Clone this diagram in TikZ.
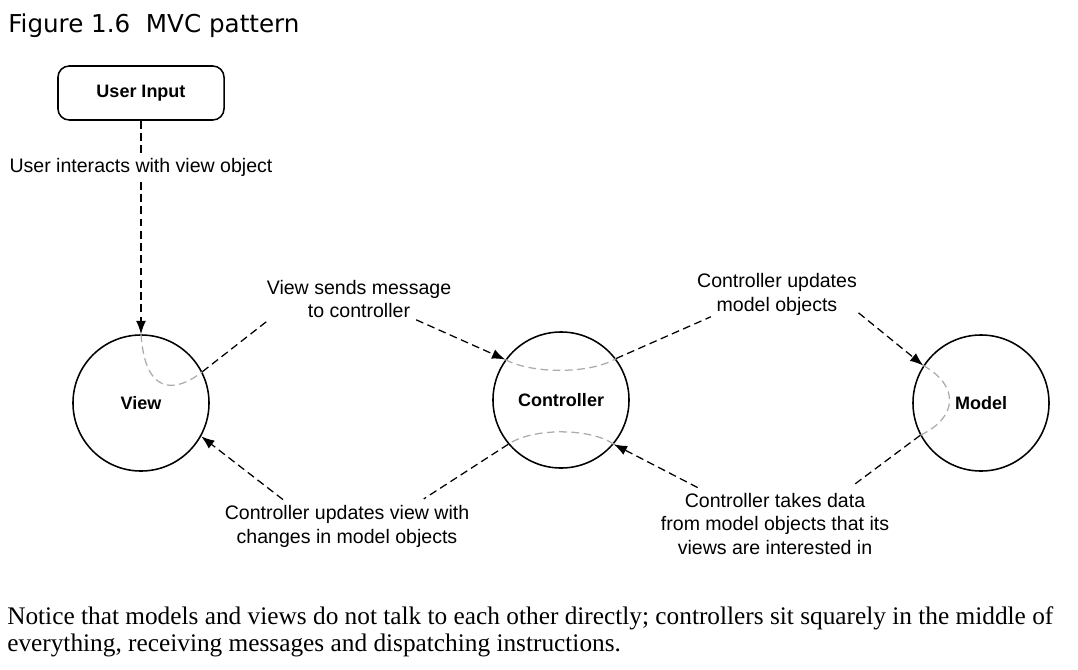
\documentclass[tikz,border=0pt]{standalone}
\usepackage{fontspec}
\setmainfont{Liberation Serif}
\setsansfont{Liberation Sans}
\newfontfamily\titlefont{DejaVu Sans}
\usetikzlibrary{arrows.meta}

\begin{document}
\begin{tikzpicture}[x=0.025cm,y=-0.025cm,
  lbl/.style={font=\sffamily\fontsize{13.9}{17}\selectfont,align=center,inner sep=1pt},
  obj/.style={draw,line width=1.1pt,font=\sffamily\bfseries\fontsize{12.8}{15}\selectfont},
  part/.style={obj,circle,minimum size=3.4cm,inner sep=0pt},
  msg/.style={line width=0.9pt,dash pattern=on 5.5pt off 3.2pt},
  inside/.style={msg,gray!65},
  tip/.style={-{Latex[length=9.5pt,width=7pt]}}]
\useasboundingbox (0,0) rectangle (1078,670);
\node[anchor=base west,inner sep=0pt,font=\titlefont\fontsize{17.5}{20}\selectfont] (title) at (8,33) {Figure 1.6\ \ MVC pattern};
\node[obj,rounded corners=8pt,minimum width=4.15cm,minimum height=1.35cm] (input) at (141,93) {User Input};
\node[part] (view) at (141,403) {View};
\node[part] (ctrl) at (561,400) {Controller};
\node[part] (model) at (981,403) {Model};
\node[lbl] (sendlbl) at (359,299) {View sends message\\to controller};
\node[lbl] (updlbl) at (777,294) {Controller updates\\model objects};
\node[lbl] (backlbl) at (347,526) {Controller updates view with\\changes in model objects};
\node[lbl] (takelbl) at (775,524) {Controller takes data\\from model objects that its\\views are interested in};
\draw[msg,tip] (input) -- (view);
\node[lbl,fill=white] (uilbl) at (141,167) {User interacts with view object};
\draw[inside] (view.90) .. controls +(4,60) and +(-28,22) .. (view.27);
\draw[msg] (view.27) -- (sendlbl.193);
\draw[msg,tip] (sendlbl.-20) -- (ctrl.144);
\draw[inside] (ctrl.144) .. controls +(25,14) and +(-27,16) .. (ctrl.37);
\draw[msg] (ctrl.37) -- (updlbl.199);
\draw[msg,tip] (updlbl.-13) -- (model.147);
\draw[inside] (model.147) .. controls +(36,20) and +(38,-18) .. (model.208);
\draw[msg,shorten >=2.5mm] (model.208) -- (takelbl.25);
\draw[msg,tip,shorten <=2mm] (takelbl.155) -- (ctrl.-40);
\draw[inside] (ctrl.-40) .. controls +(-22,-16) and +(25,-17) .. (ctrl.-140);
\draw[msg,shorten >=2mm] (ctrl.-140) -- (backlbl.18);
\draw[msg,tip,shorten <=1.5mm] (backlbl.159) -- (view.-29);
\node[anchor=north west,inner sep=0pt,align=left,font=\rmfamily\fontsize{18}{19.3}\selectfont] (note) at (7,606) {Notice that models and views do not talk to each other directly; controllers sit squarely in the middle of\\everything, receiving messages and dispatching instructions.};
\end{tikzpicture}
\end{document}
